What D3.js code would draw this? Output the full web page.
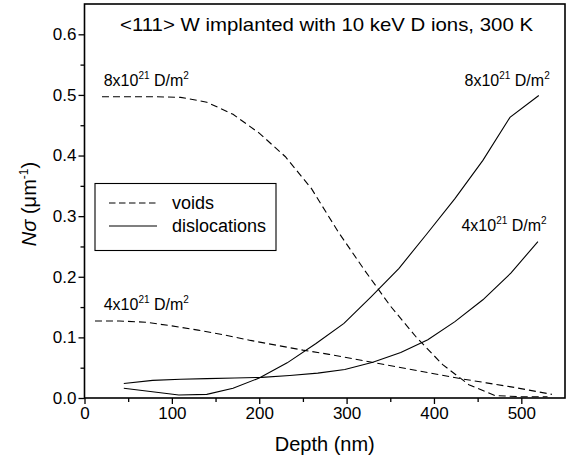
<!DOCTYPE html>
<html>
<head>
<meta charset="utf-8">
<script src="https://cdn.jsdelivr.net/npm/d3@7"></script>
<style>
  html, body { margin: 0; padding: 0; background: #fff; }
  svg { display: block; font-family: "Liberation Sans", Arial, Helvetica, sans-serif; }
</style>
</head>
<body>
<svg id="chart" width="568" height="458"></svg>
<script>
// ---- data ----
const voids8X = [20, 50, 80, 110, 140, 170, 200, 230, 260, 290, 320, 350, 380, 410, 440, 470, 500, 530];
const voids8Y = [0.497, 0.497, 0.497, 0.496, 0.488, 0.468, 0.437, 0.398, 0.345, 0.275, 0.212, 0.152, 0.100, 0.055, 0.022, 0.004, 0.002, 0.002];

const voids4X = [12, 40, 70, 100, 130, 160, 190, 220, 250, 280, 310, 340, 370, 400, 430, 460, 490, 520, 535];
const voids4Y = [0.127, 0.127, 0.125, 0.119, 0.112, 0.104, 0.095, 0.087, 0.079, 0.072, 0.064, 0.056, 0.048, 0.040, 0.032, 0.025, 0.018, 0.010, 0.006];

const disl8X = [45, 108, 140, 170, 200, 232, 265, 297, 328, 360, 392, 424, 456, 487, 520];
const disl8Y = [0.016, 0.005, 0.006, 0.016, 0.033, 0.058, 0.090, 0.123, 0.167, 0.214, 0.271, 0.329, 0.392, 0.463, 0.499];

const disl4X = [45, 78, 110, 140, 172, 203, 235, 267, 298, 330, 362, 393, 424, 456, 488, 519];
const disl4Y = [0.024, 0.029, 0.031, 0.032, 0.033, 0.034, 0.037, 0.041, 0.047, 0.059, 0.075, 0.096, 0.126, 0.162, 0.206, 0.258];

const xMajorTicks = [0, 100, 200, 300, 400, 500];
const xMinorTicks = [50, 150, 250, 350, 450];
const yMajorTicks = [0.0, 0.1, 0.2, 0.3, 0.4, 0.5, 0.6];
const yMinorTicks = [0.05, 0.15, 0.25, 0.35, 0.45, 0.55];

const titleText = "<111> W implanted with 10 keV D ions, 300 K";
const xLabel = "Depth (nm)";
const legendLabels = ["voids", "dislocations"];

(function () {
// ---- layout ----
const svg = d3.select("#chart");
const mLeft = 84.5, mRight = 565, mTop = 4, mBottom = 398;
const x = d3.scaleLinear().domain([0, 550]).range([mLeft, mRight]);
const y = d3.scaleLinear().domain([0, 0.65]).range([mBottom, mTop]);

const fontTick = 17;

// minor ticks
svg.append("g").attr("transform", `translate(0,${mBottom})`)
  .call(d3.axisBottom(x).tickValues(xMinorTicks).tickSize(4).tickFormat(""))
  .call(g => g.select(".domain").remove())
  .call(g => g.selectAll("line").attr("stroke", "#000").attr("stroke-width", 1.3));
svg.append("g").attr("transform", `translate(${mLeft},0)`)
  .call(d3.axisLeft(y).tickValues(yMinorTicks).tickSize(4).tickFormat(""))
  .call(g => g.select(".domain").remove())
  .call(g => g.selectAll("line").attr("stroke", "#000").attr("stroke-width", 1.3));

// major ticks
svg.append("g").attr("transform", `translate(0,${mBottom})`)
  .call(d3.axisBottom(x).tickValues(xMajorTicks).tickSize(6).tickPadding(3).tickFormat(d3.format("d")))
  .call(g => g.select(".domain").remove())
  .call(g => g.selectAll("line").attr("stroke", "#000").attr("stroke-width", 1.3))
  .call(g => g.selectAll("text").attr("fill", "#000").style("font-size", fontTick + "px")
    .style("font-family", '"Liberation Sans", Arial, sans-serif'));
svg.append("g").attr("transform", `translate(${mLeft},0)`)
  .call(d3.axisLeft(y).tickValues(yMajorTicks).tickSize(6).tickPadding(2).tickFormat(d3.format(".1f")))
  .call(g => g.select(".domain").remove())
  .call(g => g.selectAll("line").attr("stroke", "#000").attr("stroke-width", 1.3))
  .call(g => g.selectAll("text").attr("fill", "#000").style("font-size", fontTick + "px")
    .style("font-family", '"Liberation Sans", Arial, sans-serif'));

// frame
svg.append("rect")
  .attr("x", mLeft).attr("y", mTop)
  .attr("width", mRight - mLeft).attr("height", mBottom - mTop)
  .attr("fill", "none").attr("stroke", "#000").attr("stroke-width", 1.6);

// curves
const line = d3.line().x(d => x(d[0])).y(d => y(d[1]));
function drawSeries(xs, ys, dashed) {
  svg.append("path")
    .datum(xs.map((v, i) => [v, ys[i]]))
    .attr("d", line)
    .attr("fill", "none")
    .attr("stroke", "#000")
    .attr("stroke-width", 1.1)
    .attr("stroke-dasharray", dashed ? "7,4" : null);
}
drawSeries(voids8X, voids8Y, true);
drawSeries(voids4X, voids4Y, true);
drawSeries(disl8X, disl8Y, false);
drawSeries(disl4X, disl4Y, false);

// fluence annotations
function fluenceLabel(mant, dx, dy) {
  const t = svg.append("text")
    .attr("x", x(dx)).attr("y", y(dy))
    .attr("fill", "#000").style("font-size", "16px");
  t.append("tspan").text(mant + "x10");
  t.append("tspan").attr("dy", -7).style("font-size", "10px").text("21");
  t.append("tspan").attr("dy", 7).text(" D/m");
  t.append("tspan").attr("dy", -7).style("font-size", "10px").text("2");
}
fluenceLabel("8", 22, 0.515);
fluenceLabel("4", 22, 0.146);
fluenceLabel("8", 435, 0.515);
fluenceLabel("4", 431.5, 0.2755);

// title
svg.append("text")
  .attr("x", 120).attr("y", 31)
  .attr("textLength", 413).attr("lengthAdjust", "spacingAndGlyphs")
  .attr("fill", "#000").style("font-size", "19px")
  .text(titleText);

// x axis label
svg.append("text")
  .attr("x", (mLeft + mRight) / 2).attr("y", 451)
  .attr("text-anchor", "middle")
  .attr("fill", "#000").style("font-size", "20px")
  .text(xLabel);

// y axis label
const yl = svg.append("text")
  .attr("transform", "translate(36,204) rotate(-90)")
  .attr("text-anchor", "middle")
  .attr("fill", "#000").style("font-size", "20px");
yl.append("tspan").style("font-style", "italic").text("N\u03C3");
yl.append("tspan").text("  (\u03BCm");
yl.append("tspan").attr("dy", -8).style("font-size", "12px").text("-1");
yl.append("tspan").attr("dy", 8).text(")");

// legend
const lg = svg.append("g");
lg.append("rect").attr("x", 95).attr("y", 183.5).attr("width", 181).attr("height", 67)
  .attr("fill", "#fff").attr("stroke", "#000").attr("stroke-width", 1.1);
legendLabels.forEach((lab, i) => {
  const yy = 203 + i * 23;
  lg.append("line").attr("x1", 109).attr("x2", 157).attr("y1", yy).attr("y2", yy)
    .attr("stroke", "#000").attr("stroke-width", 1.1)
    .attr("stroke-dasharray", i === 0 ? "6.5,3.5" : null);
  lg.append("text").attr("x", 172).attr("y", yy + 6)
    .attr("fill", "#000").style("font-size", "18px").text(lab);
});
})();
</script>
</body>
</html>
